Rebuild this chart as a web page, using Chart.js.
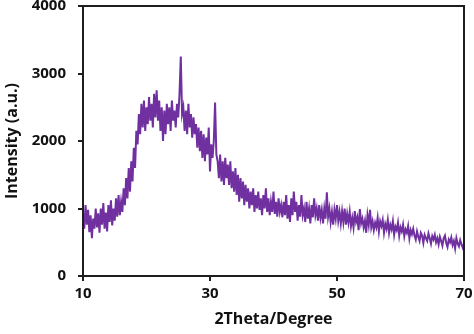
<!DOCTYPE html>
<html>
<head>
<meta charset="utf-8">
<script src="https://cdn.jsdelivr.net/npm/chart.js@4.4.1/dist/chart.umd.min.js"></script>
<style>
html,body{margin:0;padding:0;background:#fff;}
#wrap{width:474px;height:334px;position:relative;}
</style>
</head>
<body>
<div id="wrap"><canvas id="c" width="474" height="334"></canvas></div>
<script>
// Scan grid (2θ, degrees)
const scanStart = 10;
const scanStep = 0.2;
const intensity10to20 = [
  900,700,1050,760,980,650,900,560,850,700,1000,
  720,930,640,1000,760,1080,700,940,660,1050,800,1120,750,
  1000,820,1150,880,1200,900,1100,950,
  1300,1050,1450,1150,1600,1250,
  1700,1400,1900,1600,2150,
  1950,2400,2100,2550,2200,2600,2150
];
const intensity20to31 = [
  2500,2250,2650,2300,2550,2200,2700,2350,2750,2300,
  2600,2150,2500,2000,2450,2100,2550,2250,2500,2150,2600,2300,2450,
  2200,2550,2350,2700,3250,2400,
  2500,2150,2450,2100,2550,2200,2400,2050,2350,2100,
  2250,1900,2200,1850,2150,1750,2100,1700,2050,1800,2200,1550,1950,1750,2000,
  2570,1800
];
const intensity31to41 = [
  1700,1450,1800,1400,1700,1350,1750,1450,1650,1350,1700,1300,1550,
  1250,1600,1200,1500,1100,1450,1150,1400,1050,1350,1100,1300,1000,
  1250,1050,1300,950,1200,1000,1250,980,1150,900,
  1200,1000,1300,950,1150,900,1100,950,1250,920,
  1100,880,1150,950,1050,870
];
const intensity41to52 = [
  1100,900,1200,850,1050,800,1150,900,1250,950,
  1100,820,1050,880,1200,900,1000,800,1100,850,
  1000,780,1050,870,1150,900,1000,
  820,1050,860,980,780,1000,850,1240,880,1000,
  800,950,760,980,850,1050,820,950,
  780,960,800,1000,760,920,790,950
];
const intensity52to62 = [
  740,860,720,960,800,870,680,990,780,850,
  720,820,640,900,760,980,720,810,
  680,790,720,860,660,810,740,830,640,770,
  700,830,640,760,690,810,610,730,680,790,
  600,720,660,760,590,690,640,740,560,680,
  620,700
];
const intensity62to70 = [
  600,540,660,580,520,640,600,490,610,560,
  520,630,560,480,590,540,610,500,560,470,
  580,520,450,560,600,490,430,540,500,570,
  460,520,410,560,480,440,530,470,420,480
];
const xTicks = [10, 30, 50, 70];
const yTicks = [0, 1000, 2000, 3000, 4000];

const intensity = [].concat(intensity10to20, intensity20to31, intensity31to41,
  intensity41to52, intensity52to62, intensity62to70);
const points = intensity.map((v, i) => ({ x: +(scanStart + i * scanStep).toFixed(1), y: v }));

const FONT = "'Open Sans', 'Liberation Sans', sans-serif";
const AX = '#1e1e1e';

const frame = {
  id: 'frame',
  afterDatasetsDraw(chart) {
    const a = chart.chartArea, ctx = chart.ctx;
    ctx.save();
    ctx.strokeStyle = AX;
    ctx.lineWidth = 2;
    ctx.strokeRect(a.left, a.top, a.right - a.left, a.bottom - a.top);
    ctx.restore();
  }
};

new Chart(document.getElementById('c'), {
  type: 'line',
  data: {
    datasets: [{
      data: points,
      borderColor: '#7030A0',
      borderWidth: 2,
      pointRadius: 0,
      tension: 0,
      fill: false
    }]
  },
  options: {
    responsive: false,
    animation: false,
    layout: { padding: { top: 6, right: 10, left: 0, bottom: 0 } },
    plugins: { legend: { display: false }, tooltip: { enabled: false } },
    scales: {
      x: {
        type: 'linear',
        min: 10, max: 70,
        afterBuildTicks(s) { s.ticks = xTicks.map(v => ({ value: v })); },
        afterFit(s) { s.height = 58; s.paddingLeft = 0; s.paddingRight = 0; },
        grid: { display: true, drawOnChartArea: false, drawTicks: true, tickLength: 5, color: AX, lineWidth: 2 },
        border: { display: true, color: AX, width: 2 },
        ticks: { color: '#111', padding: 4, maxRotation: 0, callback: v => String(v),
                 font: { family: FONT, size: 15, weight: 'bold' } },
        title: { display: true, text: '2Theta/Degree', color: '#111', padding: { top: 2, bottom: 5 },
                 font: { family: FONT, size: 16, weight: 'bold' } }
      },
      y: {
        min: 0, max: 4000,
        afterBuildTicks(s) { s.ticks = yTicks.map(v => ({ value: v })); },
        afterFit(s) { s.width = 83; s.paddingTop = 0; s.paddingBottom = 0; },
        grid: { display: true, drawOnChartArea: false, drawTicks: true, tickLength: 5, color: AX, lineWidth: 2 },
        border: { display: true, color: AX, width: 2 },
        ticks: { color: '#111', padding: 12, callback: v => String(v),
                 font: { family: FONT, size: 15, weight: 'bold' } },
        title: { display: true, text: 'Intensity (a.u.)', color: '#111', padding: { top: 3, bottom: 0 },
                 font: { family: FONT, size: 16, weight: 'bold' } }
      }
    }
  },
  plugins: [frame]
});
</script>
</body>
</html>
